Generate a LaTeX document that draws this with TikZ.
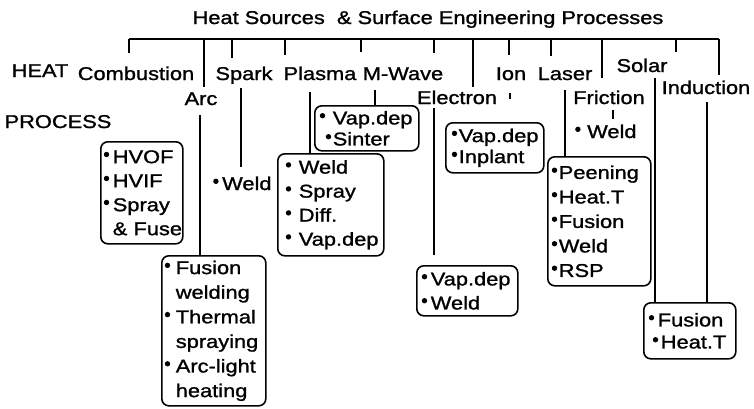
\documentclass[tikz,border=0pt]{standalone}
\usepackage{fontspec}
\setmainfont{Liberation Sans}[FakeStretch=1.18, FakeBold=1.2]
\newcommand\bu[1][9pt]{\makebox[#1][l]{\raisebox{6pt}{\tikz\fill (0,0) circle (2.7pt);}}}
\tikzset{
  every node/.style={font=\fontsize{18.5}{24}\selectfont, inner sep=0pt},
  lbl/.style={anchor=base},
  pbox/.style={draw, line width=1.6pt, rounded corners=7pt, anchor=north west,
               align=left, inner xsep=#1, inner ysep=0pt},
  ln/.style={line width=1.5pt},
  thinln/.style={line width=1.1pt},
}
\begin{document}
\begin{tikzpicture}[x=1pt,y=-1pt]
\useasboundingbox[fill=white] (0,0) rectangle (754,408);

% title and labels
\node[lbl] (title) at (428,24) {Heat Sources\ \ \& Surface Engineering Processes};
\node[lbl] (heat) at (40,77) {HEAT};
\node[lbl] (process) at (58,128) {PROCESS};
\node[lbl] (comb) at (136,80) {Combustion};
\node[lbl] (arc) at (201,105) {Arc};
\node[lbl] (spark) at (244,80) {Spark};
\node[lbl] (plasma) at (320,80) {Plasma};
\node[lbl] (mwave) at (403,80) {M-Wave};
\node[lbl] (electron) at (457,104) {Electron};
\node[lbl] (ion) at (511,80) {Ion};
\node[lbl] (laser) at (565,80) {Laser};
\node[lbl] (friction) at (609,104) {Friction};
\node[lbl] (solar) at (642,72) {Solar};
\node[lbl] (induction) at (706,94) {Induction};

% free items
\node[anchor=base west] (sparkweld) at (213,190) {\bu[9pt]Weld};
\node[anchor=base west] (fricweld) at (575,138) {\bu[12pt]Weld};

% boxes
\node[pbox=3pt, minimum height=102pt, text width=76pt] (combbox) at (100,141)
  {\bu[9pt]HVOF\\\bu[9pt]HVIF\\\bu[9pt]Spray\\\hspace*{9pt}\&~Fuse};
\node[pbox=3pt, minimum height=150pt, text width=98pt,
      font=\fontsize{18.5}{24.6}\selectfont] (arcbox) at (161,255)
  {\bu[11pt]Fusion\\\hspace*{11pt}welding\\\bu[11pt]Thermal\\\hspace*{11pt}spraying\\\bu[11pt]Arc-light\\\hspace*{11pt}heating};
\node[pbox=8pt, minimum height=102pt, text width=90pt] (plasmabox) at (277,153)
  {\bu[13pt]Weld\\\bu[13pt]Spray\\\bu[13pt]Diff.\\\bu[13pt]Vap.dep};
\node[pbox=5pt, minimum height=45pt, text width=94pt,
      font=\fontsize{18.5}{21}\selectfont] (mwavebox) at (314,105)
  {\bu[13pt]Vap.dep\\\hspace*{6pt}\bu[7pt]Sinter};
\node[pbox=5pt, minimum height=50pt, text width=91pt] (elecbox) at (416,265)
  {\bu[9pt]Vap.dep\\\bu[9pt]Weld};
\node[pbox=6pt, minimum height=50pt, text width=86pt,
      font=\fontsize{18.5}{21}\selectfont] (ionbox) at (445,122)
  {\bu[7pt]Vap.dep\\\bu[7pt]Inplant};
\node[pbox=4pt, minimum height=129pt, text width=95pt,
      font=\fontsize{18.5}{24.5}\selectfont] (laserbox) at (547,156)
  {\bu[7pt]Peening\\\bu[7pt]Heat.T\\\bu[7pt]Fusion\\\bu[7pt]Weld\\\bu[7pt]RSP};
\node[pbox=5pt, minimum height=56pt, text width=82pt,
      font=\fontsize{18.5}{22}\selectfont] (indbox) at (643,302)
  {\bu[9pt]Fusion\\\hspace*{4pt}\bu[8pt]Heat.T};

% top bar and ticks
\coordinate (barL) at (129,39);
\coordinate (barR) at (719,39);
\draw[ln] (barL) -- (barR);
\foreach \n/\x/\y in {a/129/53, b/204/87, c/232/58, d/285/55, e/361/52, f/434/53,
                      g/473/87, h/509/55, i/551/56, j/602/78, k/676/52, l/719/75}
  {\coordinate (top\n) at (\x,39); \coordinate (tick\n) at (\x,\y);
   \draw[ln] (top\n) -- (tick\n);}

% branch lines
\coordinate (arcA) at (200,115);
\draw[ln] (arcA) -- (arcA |- arcbox.north);
\coordinate (sparkA) at (241,88); \coordinate (sparkB) at (241,167);
\draw[ln] (sparkA) -- (sparkB);
\coordinate (plasmaA) at (310,92);
\draw[ln] (plasmaA) -- (plasmaA |- plasmabox.north);
\coordinate (mwaveA) at (375,90);
\draw[ln] (mwaveA) -- (mwaveA |- mwavebox.north);
\coordinate (elecA) at (434,108); \coordinate (elecB) at (434,255);
\draw[ln] (elecA) -- (elecB);
\coordinate (ionA) at (510,93); \coordinate (ionB) at (510,99);
\draw[thinln] (ionA) -- (ionB);
\coordinate (laserA) at (565,90);
\draw[ln] (laserA) -- (laserA |- laserbox.north);
\coordinate (fricA) at (613,110); \coordinate (fricB) at (613,119);
\draw[thinln] (fricA) -- (fricB);
\coordinate (solarA) at (655,78);
\draw[ln] (solarA) -- (solarA |- indbox.north);
\coordinate (indA) at (707,102);
\draw[ln] (indA) -- (indA |- indbox.north);
\end{tikzpicture}
\end{document}
